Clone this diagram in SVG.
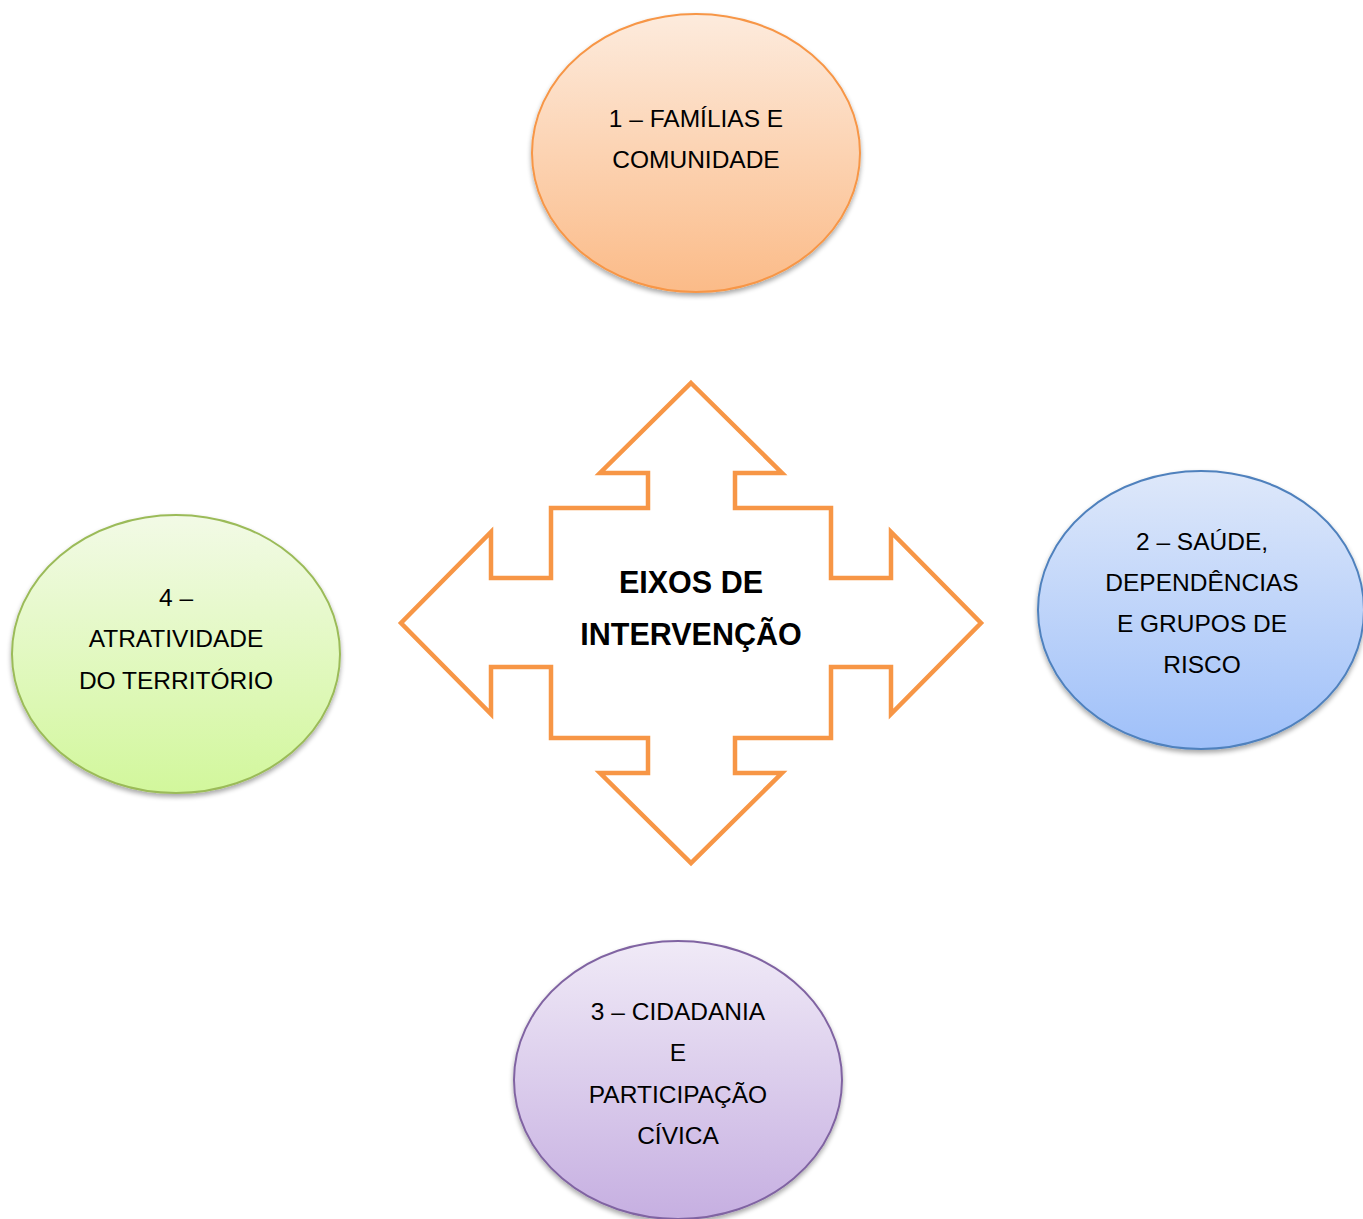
<svg xmlns="http://www.w3.org/2000/svg" width="1363" height="1219" viewBox="0 0 1363 1219">
<style>
.lbl{font-family:"Liberation Sans","Open Sans",sans-serif;font-size:24.5px;fill:#000;text-anchor:middle}
.title{font-family:"Liberation Sans","Open Sans",sans-serif;font-size:30.5px;font-weight:bold;fill:#000;text-anchor:middle}
.node ellipse{stroke-width:2}
</style>
<defs>
<linearGradient id="gO" x1="0" y1="0" x2="0" y2="1"><stop offset="0" stop-color="#FDEBDD"/><stop offset="1" stop-color="#FBBB88"/></linearGradient>
<linearGradient id="gB" x1="0" y1="0" x2="0" y2="1"><stop offset="0" stop-color="#DEE8FA"/><stop offset="1" stop-color="#9FC0F9"/></linearGradient>
<linearGradient id="gP" x1="0" y1="0" x2="0" y2="1"><stop offset="0" stop-color="#F0EAF7"/><stop offset="1" stop-color="#C6AFE1"/></linearGradient>
<linearGradient id="gG" x1="0" y1="0" x2="0" y2="1"><stop offset="0" stop-color="#F2FAE6"/><stop offset="1" stop-color="#D2F79C"/></linearGradient>
<filter id="sh" x="-10%" y="-10%" width="120%" height="125%">
<feGaussianBlur in="SourceAlpha" stdDeviation="2.5"/>
<feOffset dy="3" result="o"/>
<feComponentTransfer><feFuncA type="linear" slope="0.35"/></feComponentTransfer>
<feMerge><feMergeNode/><feMergeNode in="SourceGraphic"/></feMerge>
</filter>
</defs>
<rect width="1363" height="1219" fill="#fff"/>
<g id="connectors">
<path id="cross" d="M691,383 L782,473 L735,473 L735,508 L831,508 L831,578 L891,578 L891,532 L981,623 L891,714 L891,667 L831,667 L831,738 L735,738 L735,773 L782,773 L691,863 L600,773 L648,773 L648,738 L551,738 L551,667 L491,667 L491,714 L401,623 L491,532 L491,578 L551,578 L551,508 L648,508 L648,473 L600,473 Z" fill="#fff" stroke="#F79646" stroke-width="4.5" stroke-linejoin="miter"/>
<text class="title" x="691" y="593">EIXOS DE</text>
<text class="title" x="691" y="645">INTERVENÇÃO</text>
</g>
<g id="node1" class="node">
<ellipse cx="696" cy="153" rx="164" ry="139" fill="url(#gO)" stroke="#F79646" filter="url(#sh)"/>
<text class="lbl" x="696" y="127">1 – FAMÍLIAS E</text>
<text class="lbl" x="696" y="168">COMUNIDADE</text>
</g>
<g id="node2" class="node">
<ellipse cx="1201" cy="610" rx="163" ry="139" fill="url(#gB)" stroke="#4F81BD" filter="url(#sh)"/>
<text class="lbl" x="1202" y="550">2 – SAÚDE,</text>
<text class="lbl" x="1202" y="591">DEPENDÊNCIAS</text>
<text class="lbl" x="1202" y="632">E GRUPOS DE</text>
<text class="lbl" x="1202" y="673">RISCO</text>
</g>
<g id="node3" class="node">
<ellipse cx="678" cy="1080" rx="164" ry="139" fill="url(#gP)" stroke="#8064A2" filter="url(#sh)"/>
<text class="lbl" x="678" y="1020">3 – CIDADANIA</text>
<text class="lbl" x="678" y="1061">E</text>
<text class="lbl" x="678" y="1103">PARTICIPAÇÃO</text>
<text class="lbl" x="678" y="1144">CÍVICA</text>
</g>
<g id="node4" class="node">
<ellipse cx="176" cy="654" rx="164" ry="139" fill="url(#gG)" stroke="#9BBB59" filter="url(#sh)"/>
<text class="lbl" x="176" y="606">4 –</text>
<text class="lbl" x="176" y="647">ATRATIVIDADE</text>
<text class="lbl" x="176" y="689">DO TERRITÓRIO</text>
</g>
</svg>
